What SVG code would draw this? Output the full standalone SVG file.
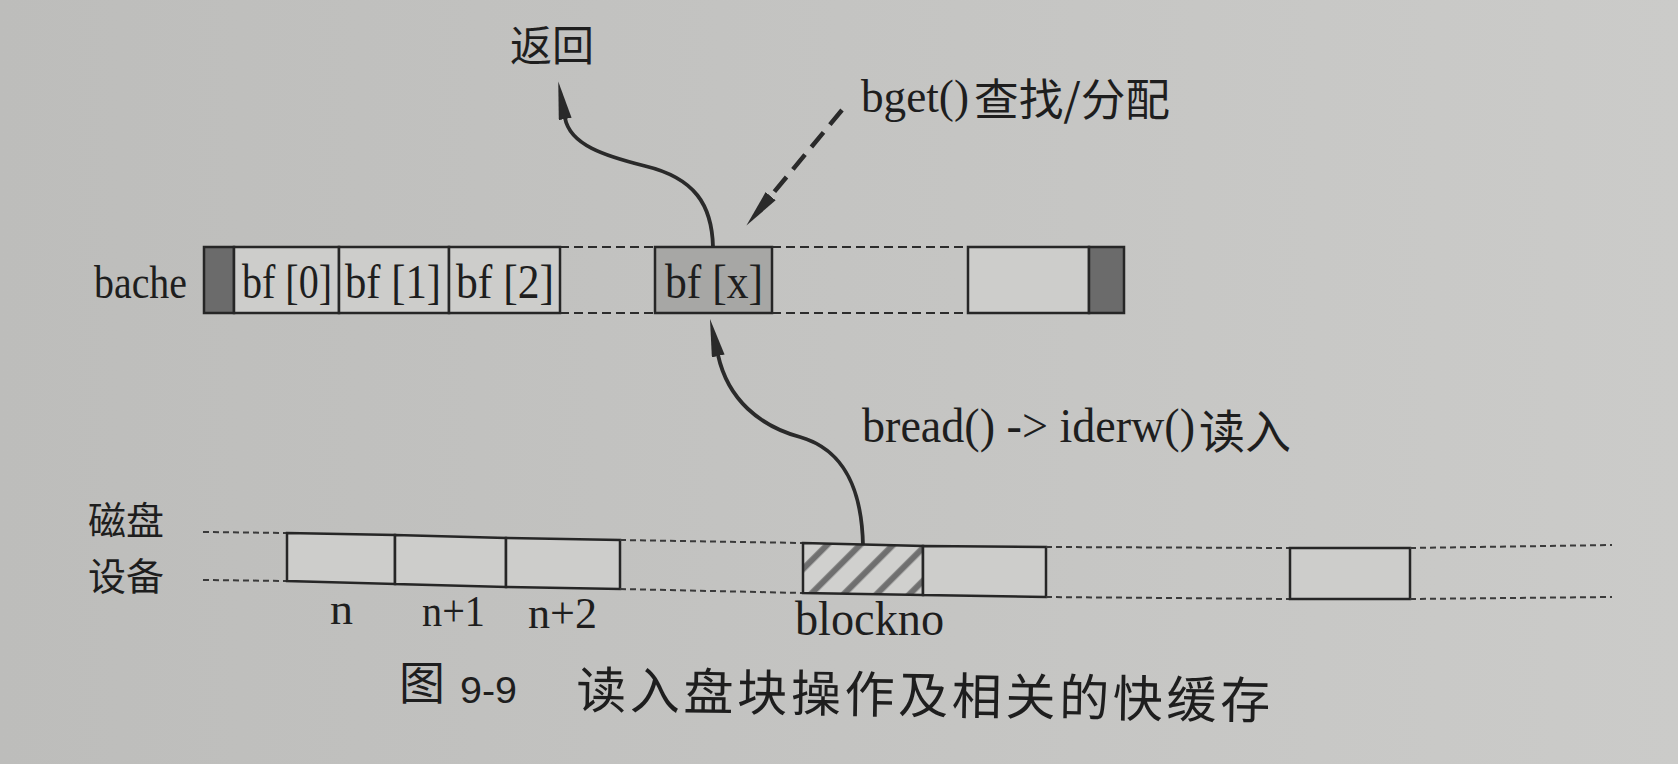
<svg xmlns="http://www.w3.org/2000/svg" width="1678" height="764" viewBox="0 0 1678 764">
<style>
.cell{fill:#cdcdcb;stroke:#262626;stroke-width:2.5}
.dark{fill:#6b6b6b;stroke:#262626;stroke-width:2.5}
.sel{fill:#a7a7a5;stroke:#262626;stroke-width:2.5}
.hatch{fill:url(#hatch);stroke:#262626;stroke-width:2.5}
.dash{fill:none;stroke:#2c2c2c;stroke-width:2;stroke-dasharray:9 5}
.ddash{fill:none;stroke:#3a3a3a;stroke-width:2;stroke-dasharray:6 4}
.conn{fill:none;stroke:#2a2a2a;stroke-width:3.8}
.dconn{fill:none;stroke:#2a2a2a;stroke-width:4.5;stroke-dasharray:19 10}
.lat{font-family:"Liberation Serif","Noto Sans CJK SC",serif;fill:#1e1e1e}
.cjk{font-family:"Noto Sans CJK SC",sans-serif;fill:#1e1e1e}
.sans{font-family:"Liberation Sans",sans-serif;fill:#1e1e1e}
</style>
<defs>
<linearGradient id="bg" x1="0" y1="0" x2="1" y2="0">
<stop offset="0" stop-color="#bdbdbb"/>
<stop offset="1" stop-color="#cbcbc9"/>
</linearGradient>
<pattern id="hatch" patternUnits="userSpaceOnUse" width="23.3" height="23.3" patternTransform="rotate(45)">
<rect x="0" y="0" width="23.3" height="23.3" fill="#d0d0ce"/>
<rect x="11.9" y="0" width="6" height="23.3" fill="#6f6f6f"/>
</pattern>
<marker id="arr" markerUnits="userSpaceOnUse" markerWidth="40" markerHeight="14" refX="1" refY="6.5" orient="auto">
<path d="M0,0 L38,6.5 L0,13 Z" fill="#2a2a2a" stroke="none"/>
</marker>
</defs>
<rect x="0" y="0" width="1678" height="764" fill="url(#bg)"/>

<g id="connectors">
<path class="conn" d="M713,247 C712,205 695,178 645,166 C605,156 570,145 565,118" marker-end="url(#arr)"/>
<path class="conn" d="M863,546 C862,490 845,450 800,437 C760,426 728,400 718,355" marker-end="url(#arr)"/>
<path class="dconn" d="M842,110 L770,197" marker-end="url(#arr)"/>
</g>

<g id="label-return"><text class="cjk" x="510" y="61" font-size="42">返回</text></g>
<g id="label-bget">
<text class="lat" x="861" y="112" font-size="46" textLength="108" lengthAdjust="spacingAndGlyphs">bget()</text>
<text class="cjk" x="974" y="116" font-size="44" textLength="196" lengthAdjust="spacingAndGlyphs">查找/分配</text>
</g>
<g id="label-bread">
<text class="lat" x="862" y="442" font-size="48" textLength="333" lengthAdjust="spacingAndGlyphs">bread() -&gt; iderw()</text>
<text class="cjk" x="1199" y="448" font-size="46">读入</text>
</g>

<g id="bache">
<text class="lat" x="94" y="298" font-size="46" textLength="93" lengthAdjust="spacingAndGlyphs">bache</text>
<g id="bache-left-end"><rect class="dark" x="204" y="247" width="30" height="66"/></g>
<g id="bf0"><rect class="cell" x="234" y="247" width="105" height="66"/>
<text class="lat" x="242" y="298" font-size="48" textLength="90" lengthAdjust="spacingAndGlyphs">bf [0]</text></g>
<g id="bf1"><rect class="cell" x="339" y="247" width="110" height="66"/>
<text class="lat" x="345" y="298" font-size="48" textLength="96" lengthAdjust="spacingAndGlyphs">bf [1]</text></g>
<g id="bf2"><rect class="cell" x="449" y="247" width="111" height="66"/>
<text class="lat" x="456" y="298" font-size="48" textLength="98" lengthAdjust="spacingAndGlyphs">bf [2]</text></g>
<path class="dash" d="M560,247 L655,247 M560,313 L655,313"/>
<g id="bfx"><rect class="sel" x="655" y="247" width="117" height="66"/>
<text class="lat" x="665" y="298" font-size="48" textLength="98" lengthAdjust="spacingAndGlyphs">bf [x]</text></g>
<path class="dash" d="M772,247 L968,247 M772,313 L968,313"/>
<g id="bf-empty"><rect class="cell" x="968" y="247" width="121" height="66"/></g>
<g id="bache-right-end"><rect class="dark" x="1089" y="247" width="35" height="66"/></g>
</g>

<g id="disk">
<text class="cjk" x="88" y="534" font-size="38">磁盘</text>
<text class="cjk" x="88" y="590" font-size="38">设备</text>
<path class="ddash" d="M203,532 L287,533 M203,580 L287,581"/>
<g id="blk-n"><polygon class="cell" points="287,533 395,535 395,584 287,581"/>
<text class="lat" x="330" y="624" font-size="44" textLength="23" lengthAdjust="spacingAndGlyphs">n</text></g>
<g id="blk-n1"><polygon class="cell" points="395,535 506,538 506,587 395,584"/>
<text class="lat" x="422" y="626" font-size="44" textLength="63" lengthAdjust="spacingAndGlyphs">n+1</text></g>
<g id="blk-n2"><polygon class="cell" points="506,538 620,540 620,589 506,587"/>
<text class="lat" x="528" y="628" font-size="44" textLength="69" lengthAdjust="spacingAndGlyphs">n+2</text></g>
<path class="ddash" d="M620,540 L803,543 M620,589 L803,593"/>
<g id="blk-blockno"><polygon class="hatch" points="803,543 923,546 923,595 803,593"/>
<text class="lat" x="795" y="635" font-size="48" textLength="149" lengthAdjust="spacingAndGlyphs">blockno</text></g>
<g id="blk-next"><polygon class="cell" points="923,546 1046,547 1046,597 923,595"/></g>
<path class="ddash" d="M1046,547 L1290,548 M1046,597 L1290,599"/>
<g id="blk-far"><polygon class="cell" points="1290,548 1410,548 1410,599 1290,599"/></g>
<path class="ddash" d="M1410,548 L1612,545 M1410,599 L1612,597"/>
</g>

<g id="caption">
<text class="cjk" x="399" y="699" font-size="46">图</text>
<text class="sans" x="460" y="703" font-size="36" textLength="57" lengthAdjust="spacingAndGlyphs">9-9</text>
<text class="cjk" x="576" y="708" font-size="50" textLength="694" lengthAdjust="spacing" transform="rotate(0.9 576 708)">读入盘块操作及相关的快缓存</text>
</g>
</svg>
